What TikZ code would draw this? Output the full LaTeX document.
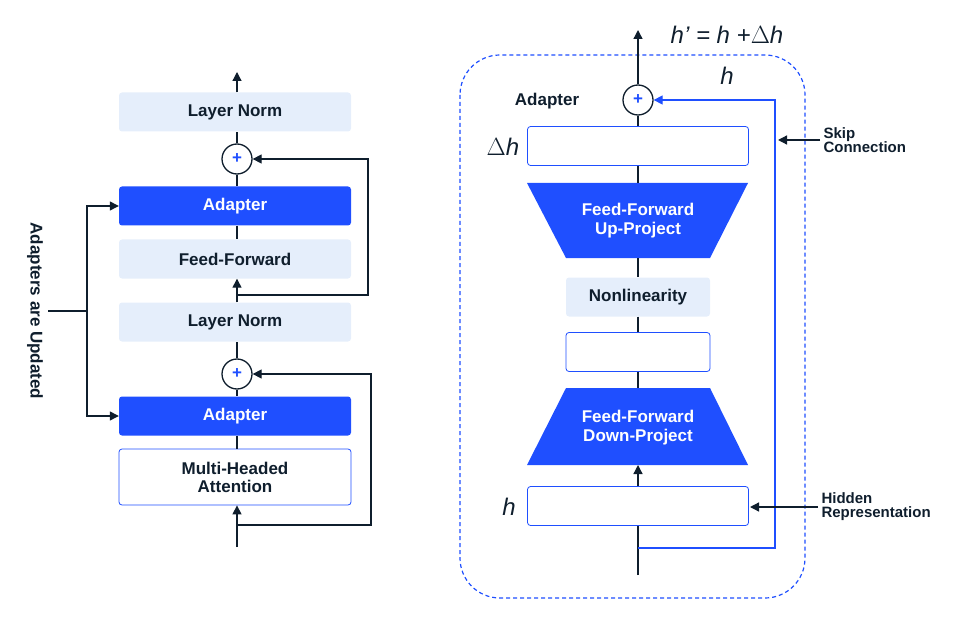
\documentclass[tikz,border=0pt]{standalone}
\usepackage{fontspec}
\setmainfont{Liberation Sans}
\usetikzlibrary{positioning, arrows.meta}
\definecolor{ablue}{HTML}{1F4FFF}
\definecolor{alight}{HTML}{E5EEFB}
\definecolor{adark}{HTML}{0F1E2D}
\tikzstyle{lbox} = [rectangle, rounded corners=3pt, minimum width=232pt, minimum height=39pt, fill=alight, text=adark, font=\bfseries\fontsize{17}{20}\selectfont]
\tikzstyle{abox} = [lbox, fill=ablue, text=white]
\tikzstyle{wbox} = [lbox, fill=white, draw=ablue, line width=0.8pt, align=center]
\tikzstyle{sbox} = [lbox, minimum width=144pt]
\tikzstyle{plus} = [circle, draw=adark, line width=1.3pt, minimum size=30pt, inner sep=0pt, text=ablue, font=\bfseries\fontsize{17}{20}\selectfont]
\tikzstyle{arrow} = [line width=1.3pt, draw=adark, -{Triangle[length=9pt,width=9pt]}]
\tikzstyle{line} = [line width=1.3pt, draw=adark]
\tikzstyle{lab} = [text=adark, font=\bfseries\fontsize{15}{17}\selectfont, align=left]
\tikzstyle{mlab} = [text=adark, font=\itshape\fontsize{24}{26}\selectfont]

\begin{document}
\begin{tikzpicture}[x=1pt, y=-1pt]
    \useasboundingbox (0,0) rectangle (960,620);

    % left: transformer layer
    \node (ln2) [lbox] at (235,112) {Layer Norm};
    \node (add2) [plus] at (237,159) {+};
    \node (ad2) [abox] at (235,206) {Adapter};
    \node (ff) [lbox] at (235,259) {Feed-Forward};
    \node (ln1) [lbox] at (235,322) {Layer Norm};
    \node (add1) [plus] at (237,374) {+};
    \node (ad1) [abox] at (235,416) {Adapter};
    \node (mha) [wbox, minimum height=56pt] at (235,477) {Multi-Headed\\[-2pt]Attention};
    \coordinate (out) at (237,72);
    \coordinate (in) at (237,547);
    \coordinate (br1) at (237,295);
    \coordinate (br2) at (237,525);

    \draw[arrow] (ln2.north -| out) -- (out);
    \draw[line] (add2) -- (add2 |- ln2.south);
    \draw[line] (add2) -- (add2 |- ad2.north);
    \draw[line] (ad2.south -| add2) -- (ff.north -| add2);
    \draw[arrow] (ln1.north -| add2) -- (ff.south -| add2);
    \draw[line] (add1) -- (add1 |- ln1.south);
    \draw[line] (add1) -- (add1 |- ad1.north);
    \draw[line] (ad1.south -| add1) -- (mha.north -| add1);
    \draw[arrow] (in) -- (mha.south -| in);
    \draw[arrow] (br1) -| (368,159) -- (add2);
    \draw[arrow] (br2) -| (371,374) -- (add1);

    % adapters are updated
    \coordinate (brk) at (48,311);
    \draw[line] (brk) -- (87,311);
    \draw[arrow] (87,311) |- (ad2.west);
    \draw[arrow] (87,311) |- (ad1.west);
    \node (upd) [lab, rotate=-90, font=\bfseries\fontsize{17}{20}\selectfont] at (35,311) {Adapters are Updated};

    % right: adapter module
    \draw[ablue, line width=1.2pt, dash pattern=on 4pt off 3pt, rounded corners=40pt] (460,55) rectangle (805,598);
    \node (add) [plus] at (638,100) {+};
    \node (adlab) [lab, font=\bfseries\fontsize{17}{20}\selectfont] at (547,101) {Adapter};
    \node (dh) [wbox, minimum width=221pt] at (638,146) {};
    \fill[ablue] (527,183) -- (748,183) -- (710,258) -- (566,258) -- cycle;
    \node (up) [text=white, font=\bfseries\fontsize{17}{20}\selectfont, align=center] at (638,221) {Feed-Forward\\[-1pt]Up-Project};
    \node (nl) [sbox] at (638,297) {Nonlinearity};
    \node (mid) [wbox, minimum width=144pt] at (638,352) {};
    \fill[ablue] (566,388) -- (710,388) -- (748,465) -- (527,465) -- cycle;
    \node (down) [text=white, font=\bfseries\fontsize{17}{20}\selectfont, align=center] at (638,428) {Feed-Forward\\[-1pt]Down-Project};
    \node (hb) [wbox, minimum width=221pt] at (638,506) {};
    \coordinate (rin) at (638,575);
    \coordinate (rout) at (638,30);
    \coordinate (rbr) at (638,548);

    \draw[arrow] (add) -- (rout);
    \draw[line] (add) -- (add |- dh.north);
    \draw[line] (dh.south -| add) -- (638,183);
    \draw[line] (638,258) -- (nl.north -| add);
    \draw[line] (nl.south -| add) -- (mid.north -| add);
    \draw[line] (mid.south -| add) -- (638,388);
    \draw[arrow] (hb.north -| add) -- (638,465);
    \draw[line] (rin) -- (hb.south -| rin);
    \draw[arrow, draw=ablue, color=ablue] (rbr) -| (775,100) -- (add);

    \node (hp) [mlab] at (727,35) {h’ = h +\textup{$\Delta$}h};
    \node (hskip) [mlab] at (727,76) {h};
    \node (dhl) [mlab] at (503,147) {\textup{$\Delta$}h};
    \node (hl) [mlab] at (509,507) {h};

    \node (skip) [lab, anchor=west] at (820,140) {Skip\\[-3pt]Connection};
    \draw[arrow] (skip.west) -- (778,140);
    \node (hid) [lab, anchor=west] at (818,507) {Hidden\\[-3pt]Representation};
    \draw[arrow] (hid.west) -- (750,507);

\end{tikzpicture}
\end{document}
